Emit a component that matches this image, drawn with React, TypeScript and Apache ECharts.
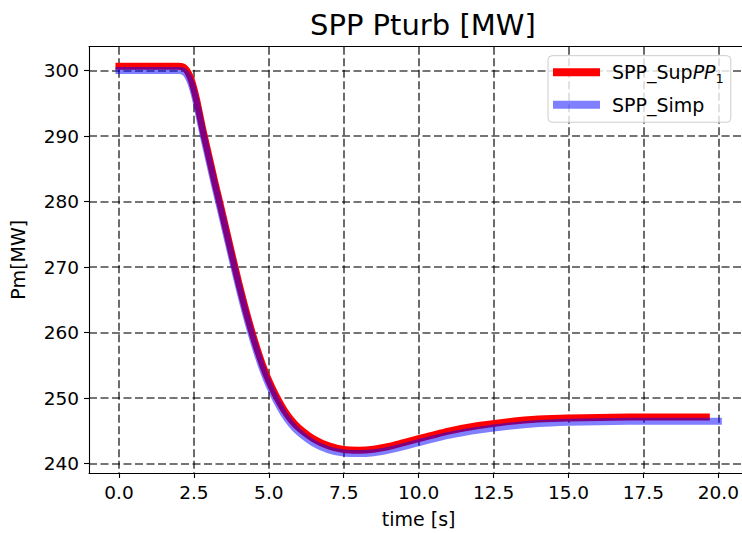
import React, { useEffect, useRef } from "react";
import * as echarts from "echarts";

const titleText = "SPP Pturb [MW]";
const xName = "time [s]";
const yName = "Pm[MW]";
const xTicks = [0, 2.5, 5, 7.5, 10, 12.5, 15, 17.5, 20];
const yTicks = [240, 250, 260, 270, 280, 290, 300];

const supTime = [0, 1, 2, 2.1, 2.2, 2.3, 2.4, 2.5, 2.6, 2.7, 2.8, 2.9, 3.0, 3.2, 3.4, 3.6, 3.8, 4.0, 4.2, 4.4, 4.6, 4.8, 5.0, 5.25, 5.5, 5.75, 6.0, 6.5, 7.0, 7.5, 8.0, 8.5, 9.0, 9.5, 10, 11, 12, 13, 14, 15, 16, 17, 18, 19, 19.6];
const supValues = [300.65, 300.65, 300.65, 300.6, 300.35, 299.75, 298.75, 297.25, 295.35, 293.15, 290.95, 288.95, 286.95, 282.95, 279.15, 275.25, 271.35, 267.55, 263.95, 260.65, 257.65, 254.95, 252.65, 250.25, 248.25, 246.65, 245.45, 243.75, 242.7, 242.15, 242.05, 242.2, 242.6, 243.2, 243.8, 244.95, 245.8, 246.4, 246.8, 246.95, 247.05, 247.1, 247.1, 247.1, 247.1];

const simpTime = [0, 1, 2, 2.1, 2.2, 2.3, 2.4, 2.5, 2.6, 2.7, 2.8, 2.9, 3.0, 3.2, 3.4, 3.6, 3.8, 4.0, 4.2, 4.4, 4.6, 4.8, 5.0, 5.25, 5.5, 5.75, 6.0, 6.5, 7.0, 7.5, 8.0, 8.5, 9.0, 9.5, 10, 11, 12, 13, 14, 15, 16, 17, 18, 19, 20];
const simpValues = [300.0, 300.0, 300.0, 299.95, 299.7, 299.1, 298.1, 296.6, 294.7, 292.5, 290.3, 288.3, 286.3, 282.3, 278.5, 274.6, 270.7, 266.9, 263.3, 260.0, 257.0, 254.3, 252.0, 249.6, 247.6, 246.0, 244.8, 243.1, 242.1, 241.6, 241.52, 241.65, 242.05, 242.6, 243.2, 244.3, 245.1, 245.7, 246.1, 246.3, 246.4, 246.45, 246.45, 246.45, 246.45];

const FONT = "DejaVu Sans";

export default function App() {
  const ref = useRef<HTMLDivElement>(null);
  useEffect(() => {
    if (!ref.current) return;
    const chart = echarts.init(ref.current, null, { renderer: "svg" });
    const gridLine = { show: true, lineStyle: { color: "rgba(0,0,0,0.72)", width: 1.6, type: [8, 3.5] } };
    const spine = { show: true, onZero: false, lineStyle: { color: "#000", width: 1.1 } };
    chart.setOption({
      animation: false,
      backgroundColor: "#ffffff",
      title: {
        text: titleText,
        left: 305,
        top: 5,
        textStyle: { fontFamily: FONT, fontSize: 29, fontWeight: "normal", color: "#000" },
      },
      grid: {
        left: 88.3,
        top: 46.7,
        width: 660,
        height: 427.6,
      },
      legend: {
        orient: "vertical",
        left: 548,
        top: 55.7,
        padding: [7, 7, 8, 5],
        itemGap: 10,
        itemWidth: 47,
        itemHeight: 8,
        icon: "rect",
        backgroundColor: "rgba(255,255,255,0.8)",
        borderColor: "#cccccc",
        borderWidth: 1,
        borderRadius: 4,
        data: ["SPP_SupPP1", "SPP_Simp"],
        formatter: (name: string) =>
          name === "SPP_SupPP1" ? "{a|SPP_Sup}{i|PP}{s|1}" : "{a|" + name + "}",
        textStyle: {
          fontFamily: FONT,
          fontSize: 19,
          color: "#000",
          padding: [0, 0, 0, 7],
          rich: {
            a: { fontFamily: FONT, fontSize: 19, color: "#000", lineHeight: 26, verticalAlign: "middle" },
            i: { fontFamily: FONT, fontSize: 19, fontStyle: "italic", color: "#000", lineHeight: 26, verticalAlign: "middle" },
            s: { fontFamily: FONT, fontSize: 13, color: "#000", lineHeight: 13, verticalAlign: "bottom" },
          },
        },
      },
      xAxis: [
        {
          type: "value",
          min: -1,
          max: 21,
          name: xName,
          nameLocation: "middle",
          nameGap: 36,
          nameTextStyle: { fontFamily: FONT, fontSize: 19, color: "#000" },
          axisLine: spine,
          axisTick: { show: true, inside: false, length: 5, customValues: xTicks, lineStyle: { color: "#000", width: 1.1 } },
          axisLabel: {
            customValues: xTicks,
            margin: 10,
            fontFamily: FONT,
            fontSize: 18.5,
            color: "#000",
            formatter: (v: number) => v.toFixed(1),
          },
          splitLine: gridLine,
        },
        {
          type: "value",
          position: "top",
          min: -1,
          max: 21,
          axisLine: spine,
          axisTick: { show: false },
          axisLabel: { show: false },
          splitLine: { show: false },
        },
      ],
      yAxis: {
        type: "value",
        min: 238.56,
        max: 303.64,
        name: yName,
        nameLocation: "middle",
        nameRotate: 90,
        nameGap: 62,
        nameTextStyle: { fontFamily: FONT, fontSize: 19, color: "#000" },
        axisLine: spine,
        axisTick: { show: true, inside: false, length: 5, customValues: yTicks, lineStyle: { color: "#000", width: 1.1 } },
        axisLabel: {
          customValues: yTicks,
          margin: 10,
          fontFamily: FONT,
          fontSize: 18.5,
          color: "#000",
          formatter: (v: number) => String(Math.round(v)),
        },
        splitLine: gridLine,
      },
      series: [
        {
          name: "SPP_SupPP1",
          type: "line",
          xAxisIndex: 0,
          data: supTime.map((t, i) => [t, supValues[i]]),
          showSymbol: false,
          smooth: 0.2,
          color: "#ff0000",
          lineStyle: { color: "#ff0000", width: 7, cap: "square", join: "round" },
          z: 2,
        },
        {
          name: "SPP_Simp",
          type: "line",
          xAxisIndex: 0,
          data: simpTime.map((t, i) => [t, simpValues[i]]),
          showSymbol: false,
          smooth: 0.2,
          color: "rgba(0,0,255,0.5)",
          lineStyle: { color: "rgba(0,0,255,0.5)", width: 7, cap: "square", join: "round" },
          z: 3,
        },
      ],
    });
    return () => chart.dispose();
  }, []);
  return (
    <div style={{ position: "fixed", left: 0, top: 0, width: 742, height: 533, overflow: "hidden" }}>
      <div ref={ref} style={{ width: 770, height: 533 }} />
    </div>
  );
}
